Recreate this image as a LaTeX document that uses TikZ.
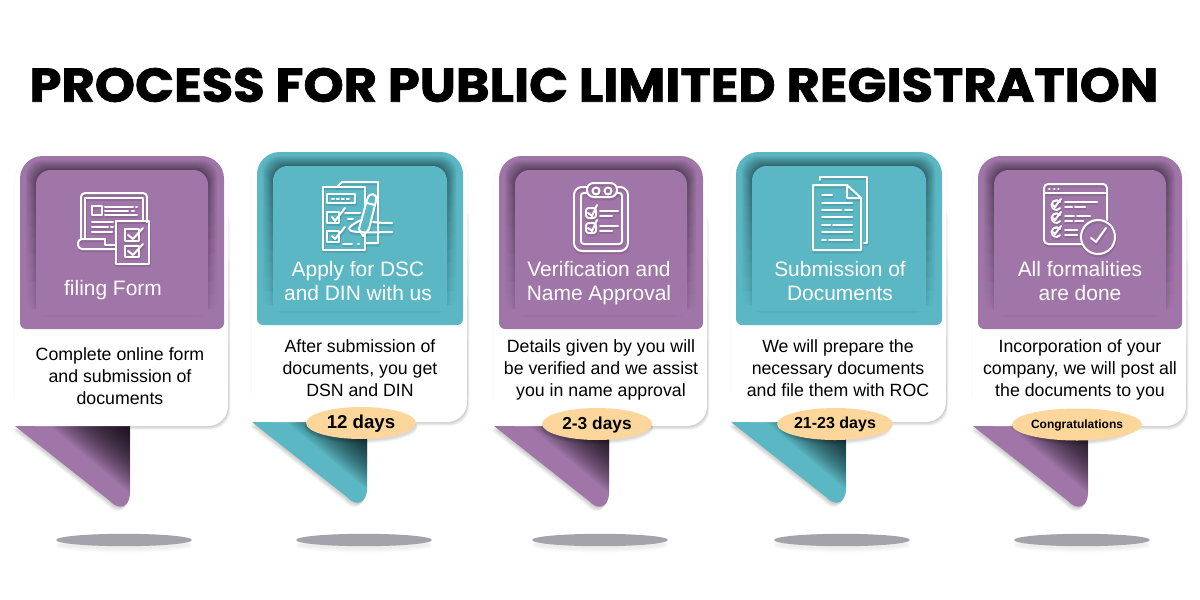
\documentclass[tikz,border=0pt]{standalone}
\usepackage{fontspec}
\usetikzlibrary{shapes.geometric,fadings}
\setmainfont{Liberation Sans}
\newfontfamily\titlefont[BoldFeatures={FakeBold=1.6,FakeStretch=1.078}]{Poppins}
\definecolor{plum}{HTML}{A076A8}
\definecolor{teal2}{HTML}{5AB7C3}
\definecolor{badge}{HTML}{FDD69B}
\definecolor{floor}{HTML}{A3A3AB}
\newcommand{\badgetext}[2]{\raisebox{-#1pt}[0pt][0pt]{#2}}
\tikzfading[name=fadedown,top color=transparent!0,bottom color=transparent!100]
\tikzset{
  iconline/.style={draw=white,line width=1.5pt,fill=none,line cap=round,line join=round},
  headtext/.style={text=white,align=center,font=\fontsize{15.7pt}{18pt}\selectfont,inner sep=0pt},
  bodytext/.style={text=black,align=center,font=\fontsize{13.3pt}{16.5pt}\selectfont,inner sep=0pt},
  badgeshape/.style={ellipse,fill=badge,minimum width=82.5pt,minimum height=24pt,inner sep=0pt,text=black},
}
\newcommand{\tailpath}[2]{% #1 dx, #2 dy
  ({\wa+#1},{\we+#2}) -- ({\ta+#1},{\we+#2}) -- ({\ta+#1},{\we+#2+67})
   .. controls ({\ta+#1},{\we+#2+80}) and ({\ta+#1-10},{\we+#2+86}) .. ({\ta+#1-20},{\we+#2+75}) -- cycle}
% #1 plate left, #2 plate right, #3 plate top, #4 colour, #5 floor-shadow centre x
\newcommand{\cardbase}[5]{%
  \pgfmathsetmacro{\pa}{#1}\pgfmathsetmacro{\pb}{#2}\pgfmathsetmacro{\pt}{#3}
  \pgfmathsetmacro{\pe}{#3+173}
  \pgfmathsetmacro{\wa}{#1-5}\pgfmathsetmacro{\wb}{#2+4}\pgfmathsetmacro{\we}{#3+270}
  \pgfmathsetmacro{\ta}{\wa+115}
  % floor shadow
  \foreach \i in {1,...,6}{\fill[black,opacity=.012] (#5,{542+\i*.8}) ellipse [x radius=68,y radius=6];}
  \fill[floor] (#5,540) ellipse [x radius=68,y radius=6.2];
  % card shadow
  \foreach \i in {1,...,5}{\fill[black,opacity=.04,rounded corners=15pt]
     ({\wa+1},{\pt+10+(6-\i)*40}) rectangle ({\wb+\i*.45},{\we+\i*.8});}
  \foreach \i in {1,...,3}{\fill[black,opacity=.008,rounded corners=15pt]
     ({\wa-\i*.6},{\pt+5}) rectangle ({\wb+\i*.6},{\we-12});}
  % tail shadow
  \foreach \i in {1,...,6}{\fill[black,opacity=.035] \tailpath{-\i*.45}{\i*.75};}
  % tail
  \begin{scope}
    \path[clip] \tailpath{0}{0};
    \fill[#4] ({\wa-5},{\we-2}) rectangle ({\ta+5},{\we+95});
    \foreach \d in {2,4,...,80}{\fill[black,opacity=.035]
       (\ta,\we) -- ({\ta-\d},\we) -- (\ta,{\we+\d*.84}) -- cycle;}
  \end{scope}
  % white body
  \fill[white,rounded corners=15pt] (\wa,{\pt+5}) rectangle (\wb,\we);
  \fill[white] (\wa,{\we-30}) rectangle ({\wa+30},\we);
  % plate
  \begin{scope}
    \path[clip] [rounded corners=4.5pt] (\pa,{\pe-30}) -- (\pa,\pe) -- (\pb,\pe) -- (\pb,{\pe-30})
        [rounded corners=17pt] -- (\pb,\pt) -- (\pa,\pt) -- cycle;
    \fill[#4] ({\pa-2},{\pt-2}) rectangle ({\pb+2},{\pe+2});
    \foreach \i in {1,...,11}{\fill[black,opacity=.042,rounded corners=12pt,path fading=fadedown,fit fading=true]
      ({\pa+16-\i*.95},{\pt+14-\i*.9}) rectangle ({\pb-16+\i*.85},{\pe-14});}
    \foreach \i in {1,...,3}{\fill[black,opacity=.012,rounded corners=11pt]
      ({\pa+16-\i},{\pt+14-\i}) rectangle ({\pb-16+\i},{\pe-14+\i});}
    \fill[#4,rounded corners=11pt] ({\pa+16},{\pe-14}) -- ({\pb-16},{\pe-14}) -- ({\pb-16},{\pt+14}) -- ({\pa+16},{\pt+14}) -- cycle;
    \fill[#4] ({\pa+16},{\pe-30}) rectangle ({\pb-16},{\pe-14});
  \end{scope}
}
% icon drawn with a soft shadow below it
\newcommand{\withshadow}[1]{%
  \begin{scope}[yshift=-1.5pt,xshift=.4pt,opacity=.10,iconline/.style={draw=black,line width=2.2pt,fill=none,line cap=round,line join=round}]#1\end{scope}
  #1}
\newcommand{\iconform}{%
  \draw[iconline] (81,238) -- (81,197) [rounded corners=3pt] -- (81,193) -- (147,193) -- (147,222);
  \draw[iconline] (85,238) -- (85,198) -- (143,198) -- (143,221);
  \draw[iconline] (92,206) rectangle (102,215);
  \draw[iconline] (105,207) -- (133,207) (136,207) -- (137,207);
  \draw[iconline] (105,211) -- (128,211) (132,211) -- (134,211);
  \draw[iconline] (105,215) -- (137,215);
  \draw[iconline] (92,222) -- (113,222) (92,227) -- (108,227) (111,227) -- (113,227) (92,232) -- (112,232);
  \draw[iconline,rounded corners=3pt] (116,249) -- (78,249) -- (78,239) -- (105,239);
  \draw[iconline] (105,239) -- (105,245) -- (116,245);
  \draw[iconline] (116,221) rectangle (149,264);
  \draw[iconline] (125,229) rectangle (139,241);
  \draw[iconline] (128,235) -- (133,239) -- (143,228);
  \draw[iconline] (125,246) rectangle (139,257);
  \draw[iconline] (128,251) -- (133,255) -- (143,244);
}
\newcommand{\icondsc}{%
  \draw[iconline] (337,187) -- (342,182) -- (378,182) -- (378,243) -- (365,243);
  \draw[iconline] (323,187) -- (365,187) -- (365,208);
  \draw[iconline] (323,187) -- (323,250) -- (365,250) -- (365,235);
  \draw[iconline] (327,194) rectangle (355,203);
  \draw[iconline,dash pattern=on 1.5pt off 2.2pt] (332,198.5) -- (350,198.5);
  \draw[iconline] (327,212) rectangle (339,223);
  \draw[iconline] (332,217) -- (335,221) -- (345,208);
  \draw[iconline] (345,213) -- (360,213) (348,219) -- (353,219);
  \draw[iconline] (327,231) rectangle (339,242);
  \draw[iconline] (332,236) -- (335,239) -- (345,227);
  \draw[iconline] (343,244) -- (352,244) (358,244) -- (359,244);
  \fill[teal2] (360,233) -- (367,200) -- (373,194) -- (376,200) -- (369,233) -- cycle;
  \draw[iconline] (359,229) -- (367,200) .. controls (369,191) and (378,193) .. (376,201) -- (369,229) -- (363,236) -- (359,229);
  \draw[iconline] (367,203) -- (375,205);
  \draw[iconline] (373,222) .. controls (380,223) and (386,223) .. (392,223);
  \draw[iconline] (392,232) .. controls (380,232) and (370,233) .. (360,232) .. controls (352,232) and (346,230) .. (351,226) .. controls (355,223) and (358,221) .. (362,220);
}
\newcommand{\iconclip}{%
  \draw[iconline,rounded corners=6pt] (587,187) -- (574,187) -- (574,251) -- (628,251) -- (628,187) -- (617,187);
  \draw[iconline,rounded corners=2pt] (587,193) -- (581,193) -- (581,244) -- (622,244) -- (622,193) -- (617,193);
  \draw[iconline,rounded corners=5pt] (587,183) rectangle (617,197);
  \draw[iconline] (596,191) circle [radius=3.5];
  \draw[iconline] (608,191) circle [radius=3.5];
  \draw[iconline,rounded corners=2pt] (586,208) rectangle (596,218);
  \draw[iconline] (588,213) -- (592,216) -- (597,205);
  \draw[iconline] (600,211) -- (618,211) (600,216) -- (612,216);
  \draw[iconline,rounded corners=2pt] (586,223) rectangle (596,233);
  \draw[iconline] (588,228) -- (592,231) -- (597,220);
  \draw[iconline] (600,226) -- (618,226) (600,231) -- (612,231);
}
\newcommand{\icondocs}{%
  \draw[iconline] (820,180) -- (820,177) -- (867,177) -- (867,243) -- (864,243);
  \draw[iconline] (847,185) -- (813,185) -- (813,250) -- (861,250) -- (861,198) -- (847,185) -- (847,198) -- (861,198);
  \draw[iconline] (822,195) -- (832,195);
  \draw[iconline] (822,203) -- (852,203);
  \draw[iconline] (822,210) -- (841,210) (845,210) -- (852,210);
  \draw[iconline] (822,217) -- (852,217);
  \draw[iconline] (822,225) -- (830,225) (833,225) -- (852,225);
  \draw[iconline] (822,232) -- (852,232);
  \draw[iconline] (822,240) -- (826,240) (829,240) -- (852,240);
}
\newcommand{\icondone}{%
  \draw[iconline,rounded corners=3pt] (1082,244) -- (1044,244) -- (1044,184) -- (1107,184) -- (1107,220);
  \draw[iconline] (1044,193) -- (1107,193);
  \draw[iconline] (1049,189) -- (1049.5,189) (1054,189) -- (1054.5,189) (1058,189) -- (1058.5,189);
  \foreach \yy in {205,218,232}{
    \draw[iconline] (1060,{\yy-3}) arc [start angle=-40,end angle=-320,radius=4.8];
    \draw[iconline] (1053,\yy) -- (1055,{\yy+2}) -- (1061,{\yy-6});
  }
  \draw[iconline] (1065,202) -- (1097,202) (1065,207) -- (1072,207) (1075,207) -- (1085,207);
  \draw[iconline] (1065,216) -- (1074,216) (1077,216) -- (1090,216) (1065,221) -- (1072,221) (1075,221) -- (1083,221);
  \draw[iconline] (1065,230) -- (1077,230) (1065,235) -- (1077,235);
  \draw[iconline] (1098,237) circle [radius=17];
  \draw[iconline] (1091,238) -- (1096,242) -- (1106,228);
}
\begin{document}
\begin{tikzpicture}[x=.75pt,y=-.75pt]
\useasboundingbox (0,0) rectangle (1200,600);
\fill[white] (0,0) rectangle (1200,600);
\node[inner sep=0pt,font=\titlefont\bfseries\fontsize{35.6pt}{40pt}\selectfont] (title) at (594,85) {PROCESS FOR PUBLIC LIMITED REGISTRATION};

\cardbase{20}{224}{156}{plum}{124}
\cardbase{257}{463}{152}{teal2}{364}
\cardbase{499}{703}{156}{plum}{600}
\cardbase{736}{942}{152}{teal2}{842}
\cardbase{978}{1182}{156}{plum}{1082}

\withshadow{\iconform}
\withshadow{\icondsc}
\withshadow{\iconclip}
\withshadow{\icondocs}
\withshadow{\icondone}

\node[headtext] (h1) at (113,291) {\strut filing Form};
\node[headtext] (h2) at (358,284) {\strut Apply for DSC\\and DIN with us\strut};
\node[headtext] (h3) at (599,284) {\strut Verification and\\Name Approval\strut};
\node[headtext] (h4) at (840,284) {\strut Submission of\\Documents\strut};
\node[headtext] (h5) at (1080,284) {\strut All formalities\\are done\strut};

\node[bodytext] (b1) at (120,377.6) {\strut Complete online form\\and submission of\\documents\strut};
\node[bodytext] (b2) at (360,370.3) {\strut After submission of\\documents, you get\\DSN and DIN\strut};
\node[bodytext] (b3) at (601,370.3) {\strut Details given by you will\\be verified and we assist\\you in name approval\strut};
\node[bodytext] (b4) at (838,370.3) {\strut We will prepare the\\necessary documents\\and file them with ROC\strut};
\node[bodytext] (b5) at (1080,370.3) {\strut Incorporation of your\\company, we will post all\\the documents to you\strut};

\foreach \cx/\cy in {361/423,597/424,835/424,1077/424.5}{
  \foreach \i in {1,...,5}{\fill[black,opacity=.03] (\cx,{\cy+1+\i*.7}) ellipse [x radius={55+\i*.3},y radius=16];}
}
\node[badgeshape,font=\bfseries\fontsize{14pt}{16pt}\selectfont] (d1) at (361,423) {\badgetext{4}{12 days}};
\node[badgeshape,font=\bfseries\fontsize{13pt}{16pt}\selectfont] (d2) at (597,424) {\badgetext{4}{2-3 days}};
\node[badgeshape,font=\bfseries\fontsize{12pt}{16pt}\selectfont] (d3) at (835,424) {\badgetext{3.6}{21-23 days}};
\node[badgeshape,font=\bfseries\fontsize{9pt}{12pt}\selectfont] (d4) at (1077,424.5) {\badgetext{2.8}{Congratulations}};
\end{tikzpicture}
\end{document}
